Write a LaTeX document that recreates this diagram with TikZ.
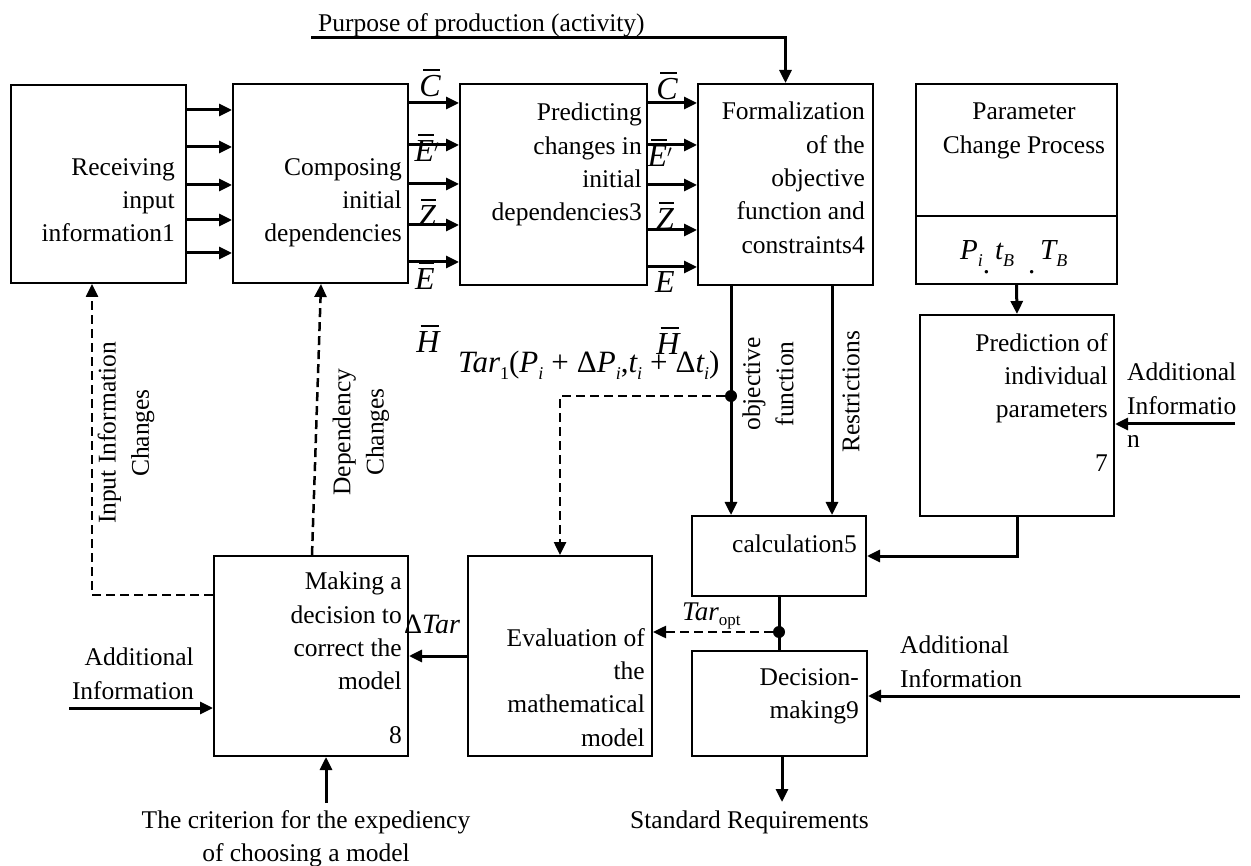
\documentclass[tikz,border=0pt]{standalone}
\usepackage{fontspec}
\setmainfont{Liberation Serif}
\usetikzlibrary{arrows.meta}
\newcommand\lo[1]{\raisebox{-0.22em}{\fontsize{18}{18}\selectfont #1}}
\newcommand\vbar[1]{\setbox0\hbox{\fontsize{32}{32}\selectfont\itshape #1}\vbox{\offinterlineskip\hbox to \wd0{\hskip 0.18\wd0\leaders\hrule height 1.6pt\hfill\hskip 0.02\wd0}\kern 5pt\box0}}
\newcommand\dotlow{\raisebox{-0.45em}{\upshape .}}
\begin{document}
\begin{tikzpicture}[x=1pt,y=-1pt,
  font=\fontsize{25.5}{33.3}\selectfont,
  box/.style={draw, line width=2pt, inner sep=0pt},
  arr/.style={line width=3pt, -{Triangle[length=13pt,width=12pt]}},
  darr/.style={line width=2.5pt, dash pattern=on 9pt off 5pt, -{Triangle[length=13pt,width=12pt]}},
  pln/.style={line width=3pt},
  txt/.style={inner sep=0pt, align=right, anchor=north east},
  ltxt/.style={inner sep=0pt, align=left, anchor=north west},
  rtxt/.style={inner sep=0pt, align=center, rotate=90},
  mlab/.style={inner sep=0pt, anchor=base},
  dotn/.style={circle, fill, inner sep=0pt, minimum size=12pt}]
\useasboundingbox (0,0) rectangle (1251,866);

% boxes
\node[box, minimum width=175pt, minimum height=198pt] (b1) at (98.5,184) {};
\node[box, minimum width=175pt, minimum height=199pt] (b2) at (320.5,183.5) {};
\node[box, minimum width=187pt, minimum height=201pt] (b3) at (553.5,184.5) {};
\node[box, minimum width=175pt, minimum height=201pt] (b4) at (785.5,184.5) {};
\node[box, minimum width=201pt, minimum height=200pt] (b6) at (1016.5,184) {};
\node[box, minimum width=194pt, minimum height=201pt] (b7) at (1017,415.5) {};
\node[box, minimum width=174pt, minimum height=80pt] (calc) at (779,556) {};
\node[box, minimum width=194pt, minimum height=200pt] (b8) at (311,656) {};
\node[box, minimum width=184pt, minimum height=200pt] (eval) at (560,656) {};
\node[box, minimum width=175pt, minimum height=105pt] (b9) at (779.5,703.5) {};
\draw[line width=2pt] (b6.west |- 0,216) -- (b6.east |- 0,216);

% box texts
\node[txt] (t1) at (175,158) {Receiving\\input\\information1};
\node[txt] (t2) at (402,158) {Composing\\initial\\dependencies};
\node[txt] (t3) at (642,103) {Predicting\\changes in\\initial\\dependencies3};
\node[txt] (t4) at (865,102) {Formalization\\of the\\objective\\function and\\constraints4};
\node[inner sep=0pt, align=center, anchor=north] (t6) at (1024,103) {Parameter\\Change Process};
\node[inner sep=0pt, anchor=base west] (t6m) at (960,260) {\fontsize{29}{29}\selectfont\itshape P\lo{i}\dotlow\,t\lo{B}\hspace{14pt}\dotlow\,T\lo{B}};
\node[txt] (t7) at (1108,333) {Prediction of\\individual\\parameters};
\node[inner sep=0pt, anchor=base east] (t7n) at (1108,472) {7};
\node[inner sep=0pt, anchor=base east] (tc) at (857,552) {calculation5};
\node[txt] (t8) at (402,572) {Making a\\decision to\\correct the\\model};
\node[inner sep=0pt, anchor=base east] (t8n) at (402,743) {8};
\node[txt] (te) at (645,628) {Evaluation of\\the\\mathematical\\model};
\node[txt] (t9) at (859,668) {Decision-\\making9};

% outside texts
\node[inner sep=0pt, anchor=base west] (tpur) at (318,32) {Purpose of production (activity)};
\node[inner sep=0pt, anchor=base west] (tstd) at (630,828) {Standard Requirements};
\node[inner sep=0pt, align=center, anchor=north] (tcrit) at (306,810) {The criterion for the expediency\\of choosing a model};
\node[txt] (tadd8) at (194,648) {Additional\\Information};
\node[ltxt] (tadd9) at (900,636) {Additional\\Information};
\node[ltxt] (tadd7) at (1127,363) {Additional\\Informatio\\n};

% rotated texts
\node[rtxt] (tinch) at (126,433) {Input Information\\Changes};
\node[rtxt] (tdepch) at (361,432) {Dependency\\Changes};
\node[rtxt] (tobj) at (768,384) {objective\\function};
\node[rtxt] (tres) at (851,392) {Restrictions};

% math labels
\node[mlab] (c1) at (430,97) {\vbar{C}};
\node[mlab] (e1) at (427,162) {\vbar{E}$'$};
\node[mlab] (z1) at (427,227) {\vbar{Z}};
\node[mlab] (f1) at (425,290) {\vbar{E}};
\node[mlab] (c2) at (667,100) {\vbar{C}};
\node[mlab] (e2) at (660,167) {\vbar{E}$'$};
\node[mlab] (z2) at (665,230) {\vbar{Z}};
\node[mlab] (f2) at (665,293) {\fontsize{32}{32}\selectfont\itshape E};
\node[mlab] (h1) at (428,353) {\vbar{H}};
\node[mlab] (h2) at (668,355) {\vbar{H}};
\node[inner sep=0pt, anchor=base west] (tar1) at (458,373) {\fontsize{31}{31}\selectfont\itshape Tar\lo{\upshape 1}{\upshape (}P\lo{i}\hspace{8pt}{\upshape +}\hspace{8pt}{\upshape Δ}P\lo{i}{\upshape ,}t\lo{i}\hspace{8pt}{\upshape +}\hspace{8pt}{\upshape Δ}t\lo{i}{\upshape )}};
\node[inner sep=0pt, anchor=base west] (taropt) at (682,620) {{\fontsize{27}{27}\selectfont\itshape Tar}\raisebox{-5pt}{\fontsize{17}{17}\selectfont opt}};
\node[inner sep=0pt, anchor=base west] (dtar) at (404,633) {\fontsize{28}{28}\selectfont Δ\textit{Tar}};

% dots and free ends
\node[dotn] (dot1) at (731,396) {};
\node[dotn] (dot2) at (779,632) {};
\coordinate (ps) at (311,38);
\coordinate (ai7) at (1235,424);
\coordinate (ai8) at (69,708);
\coordinate (ai9) at (1240,696);
\coordinate (cr) at (326,803);
\coordinate (sr) at (782,802);

% connectors
\foreach \y in {110,147,185,220,253} \draw[arr] (b1.east |- 0,\y) -- (b2.west |- 0,\y);
\foreach \y in {103,145,184,225,262} \draw[arr] (b2.east |- 0,\y) -- (b3.west |- 0,\y);
\foreach \y in {103,145,185,230,267} \draw[arr] (b3.east |- 0,\y) -- (b4.west |- 0,\y);
\draw[arr] (ps) -| (b4.north);
\draw[arr] (b4.south -| dot1) -- (calc.north -| dot1);
\draw[arr] (b4.south -| 832,0) -- (calc.north -| 832,0);
\draw[arr] (b6.south) -- (b7.north);
\draw[arr] (b7.south) |- (calc.east);
\draw[arr] (ai7) -- (b7.east |- ai7);
\draw[pln] (calc.south -| dot2) -- (b9.north -| dot2);
\draw[darr] (dot2) -- (eval.east |- dot2);
\draw[darr] (dot1) -| (eval.north);
\draw[arr] (eval.west) -- (b8.east);
\draw[arr] (ai8) -- (b8.west |- ai8);
\draw[arr] (cr) -- (cr |- b8.south);
\draw[arr] (b9.south -| sr) -- (sr);
\draw[arr] (ai9) -- (b9.east |- ai9);
\draw[darr] (b8.west |- 0,595) -| (b1.south -| 92,0);
\draw[darr] (b8.north -| 312,0) -- (b2.south -| 321,0);
\end{tikzpicture}
\end{document}
